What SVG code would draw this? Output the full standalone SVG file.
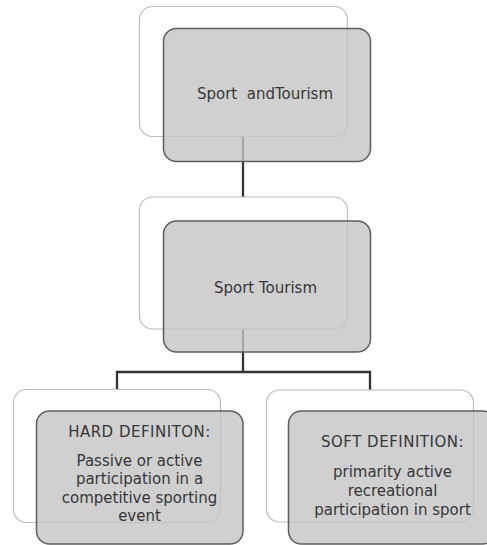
<svg xmlns="http://www.w3.org/2000/svg" width="487" height="545" viewBox="0 0 487 545">
<style>
.back{fill:#ffffff;stroke:#bcbcbc;stroke-width:1.2}
.front{fill:#c4c4c4;fill-opacity:0.8;stroke:#5e5e5e;stroke-width:1.5}
.conn{fill:none;stroke:#333333;stroke-width:2.3;stroke-linejoin:miter}
text{font-family:"DejaVu Sans","Open Sans",sans-serif;font-size:15px;fill:#363636;text-anchor:middle}
.head{letter-spacing:0.5px}
.body{letter-spacing:0}
</style>
<rect width="487" height="545" fill="#ffffff"/>
<g id="connectors">
<path class="conn" d="M243,136.5 V197"/>
<path class="conn" d="M243,329 V372"/>
<path class="conn" d="M117,389.5 V372 H370 V390"/>
</g>
<g id="node-sport-and-tourism">
<rect class="back" x="139.5" y="6.5" width="208" height="130" rx="13"/>
<rect class="front" x="163.5" y="28.5" width="207" height="133" rx="13"/>
<text x="265" y="99" xml:space="preserve">Sport  andTourism</text>
</g>
<g id="node-sport-tourism">
<rect class="back" x="139.5" y="197" width="208" height="132" rx="13"/>
<rect class="front" x="163.5" y="221" width="207" height="131" rx="13"/>
<text x="265.5" y="292.5">Sport Tourism</text>
</g>
<g id="node-hard-definition">
<rect class="back" x="13.5" y="389.5" width="207" height="133" rx="13"/>
<rect class="front" x="36.5" y="411" width="206.5" height="133" rx="13"/>
<text x="139.5" y="437"><tspan class="head">HARD DEFINITON:</tspan><tspan class="body" x="139.5" y="465.5">Passive or active</tspan><tspan class="body" x="139.5" y="484">participation in a</tspan><tspan class="body" x="139.5" y="502.5">competitive sporting</tspan><tspan class="body" x="139.5" y="520.5">event</tspan></text>
</g>
<g id="node-soft-definition">
<rect class="back" x="266.5" y="390" width="207" height="132" rx="13"/>
<rect class="front" x="288.5" y="411" width="207" height="133" rx="13"/>
<text x="392.5" y="447"><tspan class="head">SOFT DEFINITION:</tspan><tspan class="body" x="392.5" y="476.5">primarity active</tspan><tspan class="body" x="392.5" y="495.5">recreational</tspan><tspan class="body" x="392.5" y="514.5">participation in sport</tspan></text>
</g>
</svg>
